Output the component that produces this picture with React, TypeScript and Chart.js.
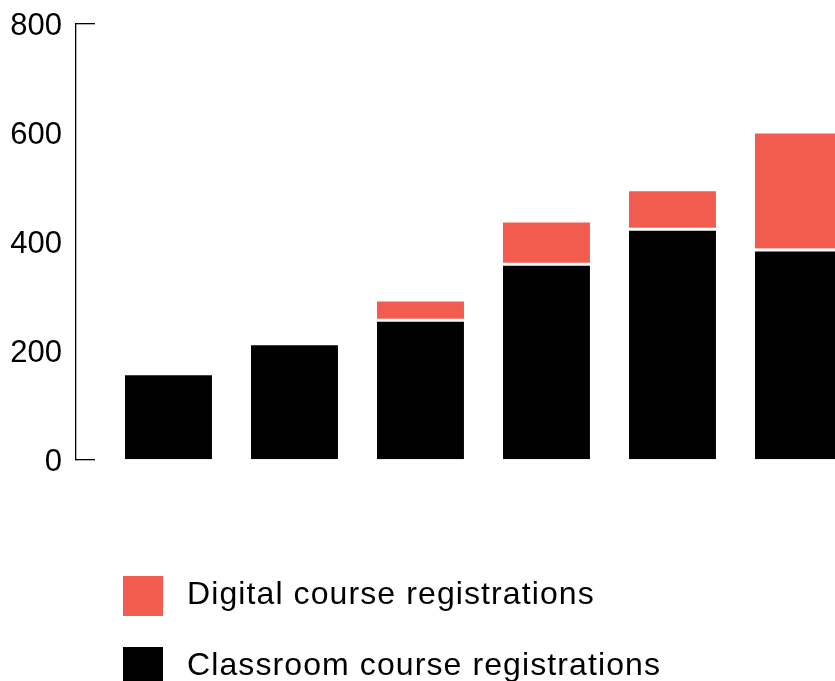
import React, { useEffect, useRef } from 'react';
import { Chart, registerables } from 'chart.js';

Chart.register(...registerables);

// ---- data ----
const categories = [1, 2, 3, 4, 5, 6];
const classroomRegistrations = [161, 216, 259, 362, 426, 388];
const digitalRegistrations = [0, 0, 32, 74, 67, 211];
const yTicks = [0, 200, 400, 600, 800];
const seriesLabels = ['Digital course registrations', 'Classroom course registrations'];
const seriesColors = ['#F25C4E', '#000000'];

const FONT = '"Liberation Sans", Arial, Helvetica, sans-serif';

export default function App() {
  const canvasRef = useRef<HTMLCanvasElement | null>(null);

  useEffect(() => {
    const canvas = canvasRef.current;
    if (!canvas) return;
    const chart = new Chart(canvas, {
      type: 'bar',
      data: {
        datasets: [
          {
            label: seriesLabels[1],
            data: categories.map((c, i) => ({ x: c, y: classroomRegistrations[i] })),
            backgroundColor: seriesColors[1],
            borderColor: '#ffffff',
            borderWidth: { top: 3, left: 0, right: 0, bottom: 0 },
            borderSkipped: 'start',
            barThickness: 87,
            inflateAmount: 0,
          },
          {
            label: seriesLabels[0],
            data: categories.map((c, i) => ({ x: c, y: digitalRegistrations[i] })),
            backgroundColor: seriesColors[0],
            borderWidth: 0,
            barThickness: 87,
            inflateAmount: 0,
          },
        ],
      },
      options: {
        responsive: false,
        animation: false,
        layout: { padding: { top: 24, bottom: 221, left: 0, right: 0 } },
        plugins: {
          legend: { display: false },
          tooltip: { enabled: false },
        },
        scales: {
          x: {
            type: 'linear',
            stacked: true,
            display: false,
            offset: false,
            min: 0.266,
            max: 6.29,
          },
          y: {
            stacked: true,
            min: 0,
            max: 800,
            afterFit: (s: any) => {
              s.width = 76;
              s.paddingTop = 0;
              s.paddingBottom = 0;
            },
            afterBuildTicks: (s: any) => {
              s.ticks = yTicks.map((v) => ({ value: v }));
            },
            ticks: {
              padding: 33,
              color: '#000000',
              labelOffset: 2,
              font: { family: FONT, size: 31 },
            },
            grid: {
              drawOnChartArea: false,
              drawTicks: true,
              tickLength: -19,
              lineWidth: 1.3,
              color: (ctx: any) =>
                ctx.tick && (ctx.tick.value === 0 || ctx.tick.value === 800) ? '#000000' : 'rgba(0,0,0,0)',
            },
            border: { display: true, color: '#000000', width: 1.3 },
          },
        },
      },
    } as any);
    return () => chart.destroy();
  }, []);

  return (
    <div
      style={{
        position: 'fixed',
        left: 0,
        top: 0,
        width: 835,
        height: 681,
        overflow: 'hidden',
        background: '#ffffff',
      }}
    >
      <canvas
        ref={canvasRef}
        width={835}
        height={681}
        style={{ position: 'absolute', left: 0, top: 0, width: 835, height: 681 }}
      />
      {seriesLabels.map((label, i) => (
        <React.Fragment key={label}>
          <div
            style={{
              position: 'absolute',
              left: 123,
              top: 576 + i * 71,
              width: 40,
              height: 40,
              background: seriesColors[i],
            }}
          />
          <div
            style={{
              position: 'absolute',
              left: 187,
              top: 573 + i * 71,
              fontFamily: FONT,
              fontSize: 32,
              lineHeight: '40px',
              letterSpacing: '1.1px',
              color: '#000000',
              whiteSpace: 'nowrap',
            }}
          >
            {label}
          </div>
        </React.Fragment>
      ))}
    </div>
  );
}
